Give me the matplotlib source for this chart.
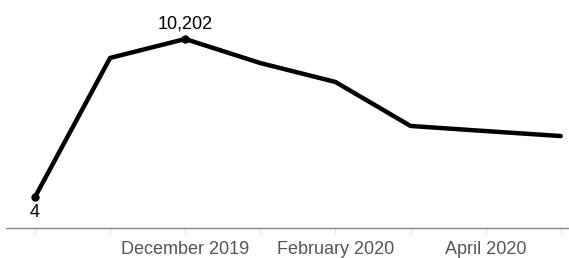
import matplotlib.pyplot as plt

months = ["October 2019", "November 2019", "December 2019", "January 2020",
          "February 2020", "March 2020", "April 2020", "May 2020"]
values = [4, 8980, 10202, 8650, 7430, 4590, 4260, 3940]
labelled = [0, 2]  # points with a value label

plt.rcParams["font.family"] = ["Liberation Sans", "DejaVu Sans"]

fig = plt.figure(figsize=(5.69, 2.58), dpi=100)
ax = fig.add_axes([6 / 569, 30 / 258, 563 / 569, 228 / 258])

x = list(range(len(values)))
ax.plot(x, values, color="black", lw=3.2, solid_joinstyle="round", solid_capstyle="round")
ax.plot([x[i] for i in labelled], [values[i] for i in labelled], "o",
        color="black", ms=5)

ax.annotate(f"{values[0]:,}", (x[0], values[0]), xytext=(0, -5),
            textcoords="offset points", ha="center", va="top", fontsize=13)
ax.annotate(f"{values[2]:,}", (x[2], values[2]), xytext=(0, 5),
            textcoords="offset points", ha="center", va="bottom", fontsize=13)

ax.set_xlim(-0.386, 7.11)
ax.set_ylim(-1996, 12720)

ax.set_xticks(x)
ax.set_xticklabels([m if i in (2, 4, 6) else "" for i, m in enumerate(months)],
                   color="#555555", fontsize=13)
ax.tick_params(axis="x", length=5, color="#e6e6e6", pad=4)
ax.set_yticks([])

for s in ["top", "right", "left"]:
    ax.spines[s].set_visible(False)
ax.spines["bottom"].set_color("#888888")
ax.spines["bottom"].set_linewidth(1)

fig.savefig("out.png", dpi=100)
